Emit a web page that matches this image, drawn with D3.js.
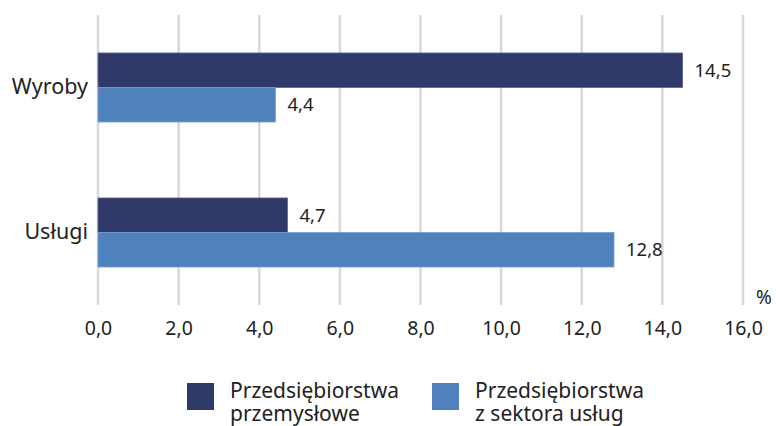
<!DOCTYPE html>
<html lang="pl">
<head>
    <meta charset="UTF-8">
    <script src="https://d3js.org/d3.v7.min.js"></script>
    <title>Wyroby i usługi</title>
    <style>
        body { margin: 0; background: #fff; }
        svg { font-family: "Noto Sans", sans-serif; }
    </style>
</head>
<body>
    <div id="chart"></div>
    <script>
        // Data
        const categories = ["Wyroby", "Usługi"];
        const seriesNames = ["Przedsiębiorstwa przemysłowe", "Przedsiębiorstwa z sektora usług"];
        const industry = [14.5, 4.7];
        const services = [4.4, 12.8];
        const xTicks = [0, 2, 4, 6, 8, 10, 12, 14, 16];

        const colors = ["#303a68", "#4f81bd"];
        const fmt = d => d.toFixed(1).replace(".", ",");

        const width = 776, height = 426;
        const svg = d3.select("#chart").append("svg")
            .attr("width", width)
            .attr("height", height);

        const x = d3.scaleLinear().domain([0, 16]).range([98, 743]);
        const y = d3.scaleBand().domain(categories).range([15, 305]).padding(0);
        const inner = d3.scaleBand().domain([0, 1])
            .range([0, y.bandwidth()]).paddingInner(0).paddingOuter(1.1);

        // Gridlines
        svg.append("g")
            .selectAll("line")
            .data(xTicks)
            .join("line")
            .attr("x1", d => x(d)).attr("x2", d => x(d))
            .attr("y1", 15).attr("y2", 305)
            .attr("stroke", "#d9d9d9")
            .attr("stroke-width", 2.5);

        // x axis labels
        const xAxis = svg.append("g")
            .attr("transform", "translate(0,305)")
            .call(d3.axisBottom(x).tickValues(xTicks).tickFormat(fmt).tickSize(0).tickPadding(16));
        xAxis.select(".domain").remove();
        xAxis.attr("font-family", null).attr("font-size", 19.5);
        xAxis.selectAll("text").attr("fill", "#222");

        // y axis labels
        const yAxis = svg.append("g")
            .attr("transform", "translate(98,0)")
            .call(d3.axisLeft(y).tickSize(0).tickPadding(10));
        yAxis.select(".domain").remove();
        yAxis.attr("font-family", null).attr("font-size", 21.5);
        yAxis.selectAll("text").attr("fill", "#222");

        // Bars
        const rows = categories.map((c, i) => ({ cat: c, vals: [industry[i], services[i]] }));
        const groups = svg.append("g")
            .selectAll("g")
            .data(rows)
            .join("g")
            .attr("transform", d => `translate(0,${y(d.cat)})`);

        groups.selectAll("rect")
            .data(d => d.vals.map((v, k) => ({ v, k })))
            .join("rect")
            .attr("x", x(0))
            .attr("y", d => inner(d.k))
            .attr("width", d => x(d.v) - x(0))
            .attr("height", inner.bandwidth())
            .attr("fill", d => colors[d.k])
            .attr("stroke", d => d.k === 0 ? "#5a6290" : "#7a9fd0")
            .attr("stroke-width", 0.8);

        groups.selectAll("text")
            .data(d => d.vals.map((v, k) => ({ v, k })))
            .join("text")
            .attr("x", d => x(d.v) + 12)
            .attr("y", d => inner(d.k) + inner.bandwidth() / 2)
            .attr("dy", "0.35em")
            .attr("font-size", 18.5)
            .attr("fill", "#222")
            .text(d => fmt(d.v));

        // Unit
        svg.append("text")
            .attr("x", 756).attr("y", 304)
            .attr("font-size", 19)
            .attr("fill", "#222")
            .text("%");

        // Legend
        const legendX = [187, 432];
        const legendLines = [["Przedsiębiorstwa", "przemysłowe"], ["Przedsiębiorstwa", "z sektora usług"]];
        const legend = svg.append("g")
            .selectAll("g")
            .data(seriesNames)
            .join("g")
            .attr("transform", (d, i) => `translate(${legendX[i]},383)`);

        legend.append("rect")
            .attr("width", 27).attr("height", 27)
            .attr("fill", (d, i) => colors[i]);

        legend.append("text")
            .attr("x", 43)
            .attr("font-size", 21)
            .attr("fill", "#222")
            .selectAll("tspan")
            .data((d, i) => legendLines[i])
            .join("tspan")
            .attr("x", 43)
            .attr("y", (d, j) => 15 + j * 23)
            .text(d => d);
    </script>
</body>
</html>
